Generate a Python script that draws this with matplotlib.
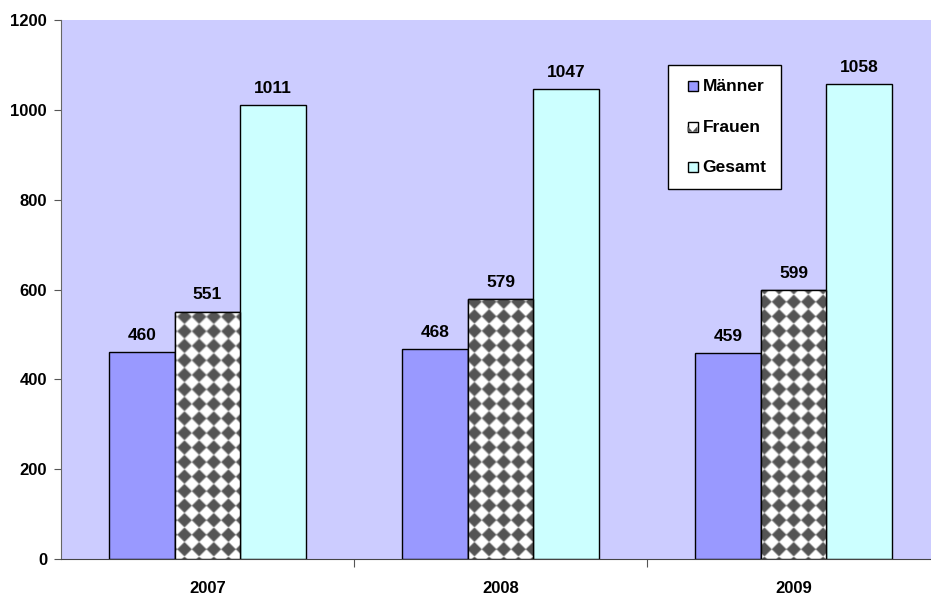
import numpy as np
import matplotlib
matplotlib.use("Agg")
import matplotlib.pyplot as plt
from matplotlib.patches import Rectangle, Polygon
from matplotlib.legend_handler import HandlerBase

years = ["2007", "2008", "2009"]
maenner = [460, 468, 459]
frauen = [551, 579, 599]
gesamt = [1011, 1047, 1058]
series_labels = ["Männer", "Frauen", "Gesamt"]
y_ticks = [0, 200, 400, 600, 800, 1000, 1200]

plt.rcParams["font.family"] = ["Liberation Sans", "DejaVu Sans"]
plt.rcParams["font.weight"] = "bold"

W, H, DPI = 931, 597, 100
fig = plt.figure(figsize=(W / DPI, H / DPI), dpi=DPI)
ax_l, ax_r, ax_t, ax_b = 61, 940, 20, 559
ax = fig.add_axes([ax_l / W, 1 - ax_b / H, (ax_r - ax_l) / W, (ax_b - ax_t) / H])
ax.set_facecolor("#CCCCFF")

x = np.arange(len(years))
bw = 0.223
edge = dict(edgecolor="black", linewidth=1.0)
b1 = ax.bar(x - bw, maenner, bw, color="#9999FF", **edge, zorder=2)
b2 = ax.bar(x, frauen, bw, color="white", **edge, zorder=2)
b3 = ax.bar(x + bw, gesamt, bw, color="#CCFFFF", **edge, zorder=2)

ax.set_xlim(-0.5, len(years) - 0.5)
ax.set_ylim(0, 1200)

# Diamond checker fill for the Frauen bars, built in pixel space
pw, ph = ax_r - ax_l, ax_b - ax_t
period = 14.5
xx, yy = np.meshgrid(np.arange(pw) + 0.5, np.arange(ph) + 0.5)
u = np.mod(xx, period) - period / 2
v = np.mod(yy, period) - period / 2
d = (np.abs(u) + np.abs(v)) / (period / 2)
dark = np.clip((1.0 - d) * 3.5 + 0.5, 0, 1)
shade = 1 - dark * (1 - 0x55 / 255)
rgb = np.dstack([shade, shade, shade])
for bar in b2:
    im = ax.imshow(rgb, extent=(-0.5, len(years) - 0.5, 0, 1200), aspect="auto",
                   origin="upper", interpolation="bilinear", zorder=2.5)
    im.set_clip_path(bar)
    r = Rectangle(bar.get_xy(), bar.get_width(), bar.get_height(),
                  fill=False, edgecolor="black", linewidth=1.0, zorder=3)
    ax.add_patch(r)

for bars, vals in ((b1, maenner), (b2, frauen), (b3, gesamt)):
    for bar, v in zip(bars, vals):
        ax.annotate(str(v), (bar.get_x() + bar.get_width() / 2, v),
                    xytext=(0, 6.5), textcoords="offset points",
                    ha="center", va="bottom", fontsize=12.5, fontweight="bold")

ax.set_yticks(y_ticks)
ax.set_yticklabels([str(t) for t in y_ticks], fontsize=12, fontweight="bold")
ax.set_xticks([0.5, 1.5, 2.5])
ax.set_xticklabels([])
ax.set_xticks(x, minor=True)
ax.set_xticklabels(years, minor=True, fontsize=12, fontweight="bold")
ax.tick_params(axis="x", which="minor", length=0, pad=16)
ax.tick_params(axis="x", which="major", length=6, direction="out", color="#555555")
ax.tick_params(axis="y", length=5, direction="out", pad=5, color="#555555")

for s in ("top", "right"):
    ax.spines[s].set_visible(False)
ax.spines["left"].set_color("#666666")
ax.spines["bottom"].set_color("#444444")
ax.spines["left"].set_zorder(4)
ax.spines["bottom"].set_zorder(4)


class SquareHandler(HandlerBase):
    """Small square key drawn at the right end of the handle box."""

    def __init__(self, patterned=False):
        super().__init__()
        self.patterned = patterned

    def create_artists(self, legend, orig_handle, xd, yd, width, height, fontsize, trans):
        side = 10 * 72 / DPI
        x0 = xd + width - side
        y0 = yd + (height - side) / 2
        sq = Rectangle((x0, y0), side, side, facecolor=orig_handle.get_facecolor(),
                       edgecolor="black", linewidth=1.0, transform=trans)
        arts = [sq]
        if self.patterned:
            poly = Polygon([(x0, y0), (x0 + side, y0), (x0 + side, y0 + side * 0.55),
                            (x0 + side * 0.5, y0), (x0, y0 + side * 0.55)],
                           closed=True, facecolor="#555555", edgecolor="none",
                           transform=trans)
            arts.append(poly)
        return arts


handles = [Rectangle((0, 0), 1, 1, facecolor="#9999FF", edgecolor="black"),
           Rectangle((0, 0), 1, 1, facecolor="white", edgecolor="black"),
           Rectangle((0, 0), 1, 1, facecolor="#CCFFFF", edgecolor="black")]
leg = fig.legend(handles, series_labels, loc="upper left",
                 bbox_to_anchor=(668 / W, 1 - 65 / H), borderaxespad=0,
                 prop=dict(size=12.5, weight="bold"), frameon=True, fancybox=False,
                 edgecolor="black", facecolor="white", framealpha=1,
                 handlelength=0.9, handleheight=0.6, handletextpad=0.3,
                 labelspacing=1.48, borderpad=0.8,
                 handler_map={handles[0]: SquareHandler(),
                              handles[1]: SquareHandler(patterned=True),
                              handles[2]: SquareHandler()})
leg.get_frame().set_linewidth(1.0)

fig.savefig("out.png", dpi=DPI)
